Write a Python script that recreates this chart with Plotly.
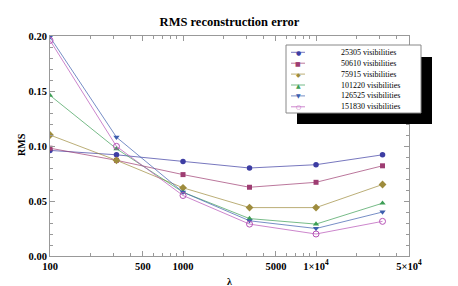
import plotly.graph_objects as go

lam = [100, 316, 1000, 3162, 10000, 31623]
series_names = ["25305 visibilities", "50610 visibilities", "75915 visibilities",
                "101220 visibilities", "126525 visibilities", "151830 visibilities"]
rms_25305 = [0.096, 0.092, 0.086, 0.080, 0.083, 0.092]
rms_50610 = [0.098, 0.087, 0.074, 0.0625, 0.067, 0.082]
rms_75915 = [0.110, 0.087, 0.062, 0.044, 0.044, 0.065]
rms_101220 = [0.146, 0.0975, 0.058, 0.034, 0.029, 0.048]
rms_126525 = [0.199, 0.108, 0.058, 0.032, 0.025, 0.040]
rms_151830 = [0.196, 0.0997, 0.055, 0.029, 0.020, 0.0315]
all_rms = [rms_25305, rms_50610, rms_75915, rms_101220, rms_126525, rms_151830]

x_tickvals = [100, 500, 1000, 5000, 10000, 50000]
x_ticktext = ["100", "500", "1000", "5000", "1×10<sup>4</sup>", "5×10<sup>4</sup>"]
y_tickvals = [0.0, 0.05, 0.10, 0.15, 0.20]

colors = ["#3d3da3", "#9e3d72", "#9e8c3d", "#3d9e55", "#3d5eae", "#b652b6"]
line_colors = ["rgba(61,61,163,0.7)", "rgba(158,61,114,0.7)", "rgba(158,140,61,0.7)",
               "rgba(61,158,85,0.7)", "rgba(61,94,174,0.7)", "rgba(182,82,182,0.7)"]
symbols = ["circle", "square", "diamond", "triangle-up", "triangle-down", "circle-open"]
glyphs = ["●", "■", "◆", "▲", "▼", "○"]
sizes = [5.5, 5, 6, 5.5, 5.5, 6]

W, H = 458, 286
L, R, T, B = 42, 401, 28, 248
pw, ph = R - L, B - T


def px(x):
    return (x - L) / pw


def py(y):
    return (B - y) / ph


fig = go.Figure()
for i, (name, vals) in enumerate(zip(series_names, all_rms)):
    fig.add_trace(go.Scatter(
        x=lam, y=vals, mode="lines+markers", name=name,
        line=dict(color=line_colors[i], width=1),
        marker=dict(color=colors[i], symbol=symbols[i], size=sizes[i],
                    line=dict(color=colors[i], width=1 if symbols[i].endswith("open") else 0)),
        showlegend=False,
    ))

minor_x = [v * 10 ** d for d in (2, 3, 4) for v in range(2, 10)]
minor_x = [v for v in minor_x if v not in x_tickvals and v <= 50000]

serif = "Liberation Serif"
fig.update_xaxes(
    type="log", range=[2, 4.69897], tickmode="array", tickvals=x_tickvals, ticktext=x_ticktext,
    ticks="inside", ticklen=5, tickcolor="#999", tickwidth=1,
    showline=True, linecolor="#999", linewidth=1, mirror="ticks", showgrid=False, zeroline=False,
    tickfont=dict(family=serif, size=10.5, color="black", weight="bold"),
    minor=dict(tickvals=minor_x, ticks="inside", ticklen=3, tickcolor="#999", showgrid=False),
)
fig.update_yaxes(
    range=[0, 0.2], tickmode="array", tickvals=y_tickvals, tickformat=".2f",
    ticks="inside", ticklen=5, tickcolor="#999", tickwidth=1,
    showline=True, linecolor="#999", linewidth=1, mirror="ticks", showgrid=False, zeroline=False,
    tickfont=dict(family=serif, size=10.5, color="black", weight="bold"),
    minor=dict(dtick=0.01, ticks="inside", ticklen=3, tickcolor="#999", showgrid=False),
)

shapes = [
    dict(type="rect", xref="paper", yref="paper", x0=px(289), x1=px(424), y0=py(116), y1=py(49),
         fillcolor="black", line=dict(width=0), layer="above"),
    dict(type="rect", xref="paper", yref="paper", x0=px(278), x1=px(413), y0=py(105), y1=py(37),
         fillcolor="white", line=dict(color="#888", width=1), layer="above"),
]
annotations = []
for i, name in enumerate(series_names):
    yy = 44.3 + i * 10.9
    shapes.append(dict(type="line", xref="paper", yref="paper", x0=px(283), x1=px(297),
                       y0=py(yy), y1=py(yy), line=dict(color=line_colors[i], width=1), layer="above"))
    annotations.append(dict(text=glyphs[i], xref="paper", yref="paper", x=px(290), y=py(yy),
                            xanchor="center", yanchor="middle", showarrow=False,
                            font=dict(family="DejaVu Sans", size=6, color=colors[i])))
    annotations.append(dict(text=name, xref="paper", yref="paper", x=px(331), y=py(yy),
                            xanchor="left", yanchor="middle", showarrow=False,
                            font=dict(family=serif, size=8, color="black")))

annotations.append(dict(text="<b>RMS</b>", xref="paper", yref="paper", x=px(13), y=py(137),
                        xanchor="center", yanchor="middle", textangle=-90, showarrow=False,
                        font=dict(family=serif, size=10, color="black")))
annotations.append(dict(text="<b>λ</b>", xref="paper", yref="paper", x=px(221), y=py(273),
                        xanchor="center", yanchor="middle", showarrow=False,
                        font=dict(family=serif, size=10, color="black")))

fig.update_layout(
    width=W, height=H,
    margin=dict(l=L, r=W - R, t=T, b=H - B),
    paper_bgcolor="white", plot_bgcolor="white",
    title=dict(text="<b>RMS reconstruction error</b>", x=0.5, xref="paper", xanchor="center",
               y=1 - 14 / H, yanchor="middle", font=dict(family=serif, size=12.5, color="black")),
    shapes=shapes, annotations=annotations,
)

fig.write_html("out.html")
